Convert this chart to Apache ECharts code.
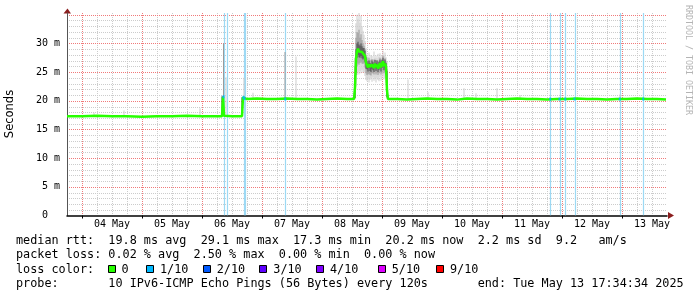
<!DOCTYPE html>
<html><head><meta charset="utf-8">
<script src="https://cdn.jsdelivr.net/npm/echarts@6/dist/echarts.min.js"></script>
<style>html,body{margin:0;padding:0;background:#fff;}#c{width:697px;height:297px;}</style>
</head><body><div id="c"></div>
<script>
// time axis: hours since 2025-05-03 00:00
const dayLabelHours = [36,60,84,108,132,156,180,204,228,252];
const dayLabels = ['04 May','05 May','06 May','07 May','08 May','09 May','10 May','11 May','12 May','13 May'];
const dayTickHours = [24,48,72,96,120,144,168,192,216,240];
const yLabelValues = [0,5,10,15,20,25,30];
const yLabels = ['0  ','5 m','10 m','15 m','20 m','25 m','30 m'];

// median rtt in ms [hour, ms]
const medianRtt = [
[18,17.3],[24,17.3],[30,17.4],[36,17.3],[42,17.3],[48,17.2],[54,17.3],[60,17.3],[66,17.4],[72,17.3],[78,17.3],[80.0,17.3],[80.4,20.7],[80.8,17.4],[81.6,17.3],[84,17.3],[88.0,17.3],[88.4,20.6],[88.8,20.4],[90,20.3],[94,20.4],[98,20.3],[102,20.3],[106,20.4],[110,20.3],[114,20.3],[118,20.2],[122,20.3],[126,20.4],[130,20.3],[132.8,20.3],
[133.2,22.3],[133.6,27.3],[134.0,28.6],[134.4,29.1],[134.8,28.6],[135.2,28.4],[135.6,28.9],[136.0,28.5],[136.4,28.2],[136.8,28.3],[137.2,27.8],[137.6,26.6],[138.0,26.2],[138.4,25.8],[138.8,26.4],[139.2,25.9],[139.6,25.6],[140.0,26.3],[140.4,26.0],[140.8,25.7],[141.2,26.5],[141.6,25.9],[142.0,26.3],[142.4,25.6],[142.8,26.1],[143.2,26.6],[143.6,25.8],[144.0,26.4],[144.4,26.9],[144.8,26.0],[145.2,26.5],[145.6,25.9],[146.0,21.8],[146.4,20.3],
[150,20.3],[154,20.2],[158,20.3],[162,20.4],[166,20.3],[170,20.3],[174,20.2],[178,20.4],[182,20.3],[186,20.3],[190,20.2],[194,20.3],[198,20.4],[202,20.3],[206,20.3],[210,20.2],[214,20.3],[218,20.3],[222,20.4],[226,20.3],[230,20.3],[234,20.2],[238,20.3],[242,20.3],[246,20.4],[250,20.3],[254,20.3],[257.6,20.2]
];

// smoke (ping spread) [hour, low ms, high ms]
const smokeOuter = [
[28.8,17.3,17.9],[40.8,17.3,18.3],[71.2,17.3,18.7],[81.6,17.3,24.1],[88.8,20.3,24.0],[92.4,20.3,21.4],[109.6,20.3,27.7],
[132.8,20.2,21.5],[133.2,20.3,27.5],[133.6,22.5,33.5],[134.0,24.5,35.0],[134.4,25.0,34.2],[134.8,24.6,35.3],[135.2,25.2,33.6],[135.6,24.8,34.8],[136.0,25.4,33.0],[136.4,24.9,32.2],[136.8,25.0,31.5],[137.2,24.3,30.4],[137.6,23.6,29.2],
[138.0,23.4,28.1],[138.4,23.8,27.6],[138.8,23.2,28.4],[139.2,23.6,27.3],[139.6,23.9,28.0],[140.0,23.3,27.8],[140.4,24.1,27.2],[140.8,23.5,28.6],[141.2,23.8,27.5],[141.6,23.2,27.9],[142.0,24.0,27.4],[142.4,23.6,28.2],[142.8,23.4,27.6],[143.2,24.2,28.3],[143.6,23.5,27.5],[144.0,23.9,28.0],[144.4,24.3,28.7],[144.8,23.7,27.9],[145.2,24.0,28.4],[145.6,23.1,27.6],[146.0,20.4,26.8],[146.4,20.2,21.0],
[154.4,20.3,23.7],[162.4,20.3,21.5],[176.8,20.3,22.2],[181.6,20.3,21.3],[190.0,20.3,22.2],[199.2,20.3,21.0],[239.2,20.3,21.1]
];
const smokeMid = [
[80.6,17.3,30.0],[105.2,20.3,28.5],
[133.2,20.5,26.0],[133.6,24.5,31.0],[134.0,26.0,32.0],[134.4,26.5,31.8],[134.8,26.3,32.4],[135.2,26.6,31.0],[135.6,26.8,31.6],[136.0,26.5,30.6],[136.4,26.4,30.0],[136.8,26.6,29.6],[137.2,25.8,29.0],[137.6,24.8,28.0],
[138.0,24.5,27.4],[138.4,24.6,27.0],[138.8,24.7,27.5],[139.2,24.5,26.9],[139.6,24.4,27.1],[140.0,24.8,27.3],[140.4,24.8,26.9],[140.8,24.6,27.2],[141.2,25.0,27.2],[141.6,24.6,27.0],[142.0,24.9,27.1],[142.4,24.5,26.8],[142.8,24.8,27.0],[143.2,25.1,27.5],[143.6,24.6,26.9],[144.0,24.9,27.3],[144.4,25.3,27.8],[144.8,24.8,27.2],[145.2,25.0,27.4],[145.6,24.5,26.9],[146.0,20.6,25.5]
];
const smokeCore = [
[80.0,17.3,20.8],[80.4,17.3,20.8],[88.0,17.4,20.6],
[133.2,20.5,24.5],[133.6,25.0,29.0],[134.0,27.5,30.0],[134.4,28.0,30.3],[134.8,27.6,29.8],[135.2,27.5,29.6],[135.6,27.8,30.0],[136.0,27.4,29.5],[136.4,27.2,29.2],[136.8,27.4,29.2],[137.2,26.8,28.7],[137.6,25.6,27.6],
[138.0,25.5,26.9],[138.4,25.1,26.5],[138.8,25.7,27.0],[139.2,25.2,26.6],[139.6,25.0,26.3],[140.0,25.6,27.0],[140.4,25.3,26.7],[140.8,25.0,26.4],[141.2,25.8,27.1],[141.6,25.2,26.6],[142.0,25.6,27.0],[142.4,25.0,26.3],[142.8,25.4,26.8],[143.2,25.9,27.2],[143.6,25.1,26.5],[144.0,25.7,27.1],[144.4,26.2,27.5],[144.8,25.3,26.7],[145.2,25.8,27.2],[145.6,25.2,26.6],[146.0,20.6,25.2]
];

// packet loss events (hours) and median value at those samples
const lossEvents = [80.6,81.8,88.6,89.0,105.3,211.3,215.0,217.3,221.0,239.1,248.5];
const lossMedian = [[80.6,20.7],[88.6,20.6],[89.0,20.4],[105.3,20.3],[211.3,20.3],[215.0,20.3],[217.3,20.3],[221.0,20.3],[239.1,20.3],[248.5,20.3]];

const legendNames = ['0','1/10','2/10','3/10','4/10','5/10','9/10'];
const legendColors = ['#26ff00','#00b8ff','#0059ff','#5e00ff','#7e00ff','#dd00ff','#ff0000'];
const statLines = [
 'median rtt:  19.8 ms avg  29.1 ms max  17.3 ms min  20.2 ms now  2.2 ms sd  9.2   am/s',
 'packet loss: 0.02 % avg  2.50 % max  0.00 % min  0.00 % now',
 'loss color:',
 'probe:       10 IPv6-ICMP Echo Pings (56 Bytes) every 120s       end: Tue May 13 17:34:34 2025'
];

const X_MIN = 18, X_MAX = 258, Y_MAX = 35.3;
const X_MINOR = 6, X_MAJOR = 24, Y_MINOR = 1, Y_MAJOR = 5;
const G = {left:67, top:13, right:30, bottom:81.5};
const MONO = '"DejaVu Sans Mono", monospace';
const GRAY = '#cccccc', RED = '#f07a7a';
const HALF = 0.2;
const LEGEND_FONT = '11.8px ' + MONO;

// grid line positions (axis ticks)
const xGridLines = []; for (let h = X_MIN + X_MINOR; h < X_MAX; h += X_MINOR) xGridLines.push([h]);
const yGridLines = []; for (let v = Y_MINOR; v < Y_MAX; v += Y_MINOR) yGridLines.push([X_MIN, v]);

function smokeSeries(data, color, z) {
  return {
    type:'custom', data, z, clip:true, silent:true, encode:{x:0, y:[1,2]},
    renderItem(params, api) {
      const t = api.value(0);
      const a = api.coord([t - HALF, api.value(2)]);
      const b = api.coord([t + HALF, api.value(1)]);
      return {type:'rect', shape:{x:a[0], y:a[1], width:Math.max(1, b[0]-a[0]), height:b[1]-a[1]}, style:{fill:color}};
    }
  };
}
function gridLine(x1, y1, x2, y2, major) {
  return {type:'line', shape:{x1, y1, x2, y2},
    style:{stroke: major ? RED : GRAY, fill:null, lineWidth:1, lineDash:[1,1]}};
}

const chart = echarts.init(document.getElementById('c'), null, {renderer:'canvas'});
const graphics = [];
statLines.forEach((s, i) => {
  graphics.push({type:'text', x:16, y:241 + i*14.3, style:{text:s, font:LEGEND_FONT, fill:'#000', verticalAlign:'middle'}});
});
const swX = [108,146,203,259,316,378,436];
const txX = [121.5,160,216.7,273.3,330,391.7,450];
legendNames.forEach((n, i) => {
  graphics.push({type:'rect', shape:{x:swX[i]+0.5, y:265.5, width:7, height:7}, style:{fill:legendColors[i], stroke:'#000', lineWidth:1}});
  graphics.push({type:'text', x:txX[i], y:241 + 2*14.3, style:{text:n, font:LEGEND_FONT, fill:'#000', verticalAlign:'middle'}});
});
graphics.push({type:'text', x:10, y:114, rotation:Math.PI/2, style:{text:'Seconds', font:'11.5px "DejaVu Sans", sans-serif', fill:'#000', align:'center', verticalAlign:'middle'}});
graphics.push({type:'text', x:688, y:60, rotation:-Math.PI/2, style:{text:'RRDTOOL / TOBI OETIKER', font:'8.3px ' + MONO, fill:'#b4b4b4', align:'center', verticalAlign:'middle'}});
graphics.push({type:'polygon', shape:{points:[[G.left-3.5,13.5],[G.left+0.5+3.5,13.5],[G.left+0.5,8.5]]}, style:{fill:'#8b1e1e'}});
graphics.push({type:'polygon', shape:{points:[[668,212],[668,219],[674,215.5]]}, style:{fill:'#8b1e1e'}});

chart.setOption({
  animation:false,
  backgroundColor:'#fff',
  grid:{left:G.left, top:G.top, right:G.right, bottom:G.bottom},
  xAxis:{
    type:'value', min:X_MIN, max:X_MAX, interval:X_MINOR,
    axisLine:{show:true, onZero:false, lineStyle:{color:'#000', width:1.5}},
    axisTick:{show:true, customValues:dayTickHours, length:3, lineStyle:{color:'#000'}},
    axisLabel:{customValues:dayLabelHours, margin:4, fontFamily:MONO, fontSize:10, color:'#000',
      formatter:v => dayLabels[dayLabelHours.indexOf(v)] || ''},
    splitLine:{show:false}
  },
  yAxis:{
    type:'value', min:0, max:Y_MAX, interval:Y_MINOR,
    axisLine:{show:true, lineStyle:{color:'#555', width:1}},
    axisTick:{show:false},
    axisLabel:{customValues:yLabelValues, margin:7, fontFamily:MONO, fontSize:10, color:'#000',
      formatter:v => yLabels[yLabelValues.indexOf(v)] || ''},
    splitLine:{show:false}
  },
  series:[
    {
      type:'custom', data:xGridLines, z:0, clip:true, silent:true, encode:{x:0},
      renderItem(params, api) {
        const h = api.value(0);
        const x = Math.round(api.coord([h, 0])[0]) + 0.5;
        const cs = params.coordSys;
        return gridLine(x, cs.y, x, cs.y + cs.height, h % X_MAJOR === 0);
      }
    },
    {
      type:'custom', data:yGridLines, z:0, clip:true, silent:true, encode:{x:0, y:1},
      renderItem(params, api) {
        const v = api.value(1);
        const y = Math.round(api.coord([X_MIN, v])[1]) + 0.5;
        const cs = params.coordSys;
        return gridLine(cs.x, y, cs.x + cs.width, y, Math.abs(v % Y_MAJOR) < 1e-9);
      }
    },
    {
      type:'custom', data:lossEvents.map(t => [t]), z:1, clip:true, silent:true, encode:{x:0},
      renderItem(params, api) {
        const x = Math.round(api.coord([api.value(0), 0])[0]) + 0.5;
        const cs = params.coordSys;
        return {type:'line', shape:{x1:x, y1:cs.y, x2:x, y2:cs.y+cs.height}, style:{stroke:'#9cd9f4', lineWidth:1.2}};
      }
    },
    smokeSeries(smokeOuter, '#cdcdcd', 2),
    smokeSeries(smokeMid, '#9a9a9a', 3),
    smokeSeries(smokeCore, '#4a4a4a', 4),
    {type:'line', data:medianRtt, z:5, showSymbol:false, symbol:'none', lineStyle:{color:'#26ff00', width:2.5}, silent:true},
    {type:'scatter', data:lossMedian, z:6, symbol:'rect', symbolSize:[2,3], itemStyle:{color:'#00b8ff'}, silent:true}
  ],
  graphic:graphics
});
</script>
</body></html>
